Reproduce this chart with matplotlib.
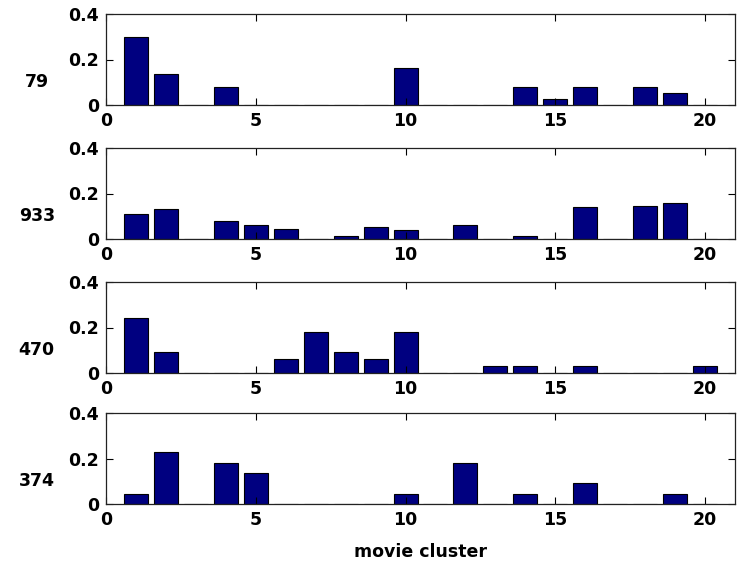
import numpy as np
import matplotlib
matplotlib.use('Agg')
import matplotlib.pyplot as plt

# 各用户在电影簇上的分布
clusters = np.arange(1, 21)
user_ids = ['79', '933', '470', '374']

user_79 = [0.297, 0.135, 0, 0.081, 0, 0, 0, 0, 0, 0.162,
           0, 0, 0, 0.081, 0.027, 0.081, 0, 0.081, 0.054, 0]
user_933 = [0.112, 0.132, 0, 0.079, 0.060, 0.046, 0, 0.015, 0.053, 0.040,
            0, 0.060, 0, 0.015, 0, 0.140, 0, 0.146, 0.159, 0]
user_470 = [0.242, 0.091, 0, 0, 0, 0.061, 0.182, 0.091, 0.061, 0.182,
            0, 0, 0.030, 0.030, 0, 0.030, 0, 0, 0, 0.030]
user_374 = [0.045, 0.227, 0, 0.182, 0.136, 0, 0, 0, 0, 0.045,
            0, 0.182, 0, 0.045, 0, 0.091, 0, 0, 0.045, 0]

series = [user_79, user_933, user_470, user_374]

plt.rcParams['font.family'] = ['DejaVu Sans']
plt.rcParams['font.weight'] = 'bold'
plt.rcParams['font.size'] = 12.5

fig = plt.figure(figsize=(7.4, 5.65), dpi=100)

left, width = 106 / 740, 629 / 740
tops = [14, 148, 282, 413]
h = 91

for uid, vals, top in zip(user_ids, series, tops):
    ax = fig.add_axes([left, 1 - (top + h) / 565, width, h / 565])
    ax.bar(clusters, vals, width=0.8, color='#000080',
           edgecolor='black', linewidth=0.8)
    ax.set_xlim(0, 21)
    ax.set_ylim(0, 0.4)
    ax.set_xticks([0, 5, 10, 15, 20])
    ax.set_yticks([0, 0.2, 0.4])
    ax.set_yticklabels(['0', '0.2', '0.4'])
    ax.tick_params(direction='in', top=True, right=True, length=5,
                   width=0.8, labelsize=12.5)
    ax.tick_params(axis='x', pad=5)
    ax.tick_params(axis='y', pad=5)
    for sp in ax.spines.values():
        sp.set_linewidth(0.9)
        sp.set_color('#222222')
    ax.text(-0.11, 0.25, uid, transform=ax.transAxes, ha='center',
            va='center', fontsize=12.5, fontweight='bold')

ax.set_xlabel('movie cluster', fontsize=12.5, fontweight='bold', labelpad=10)

plt.savefig('out.png', dpi=100)
plt.close()
